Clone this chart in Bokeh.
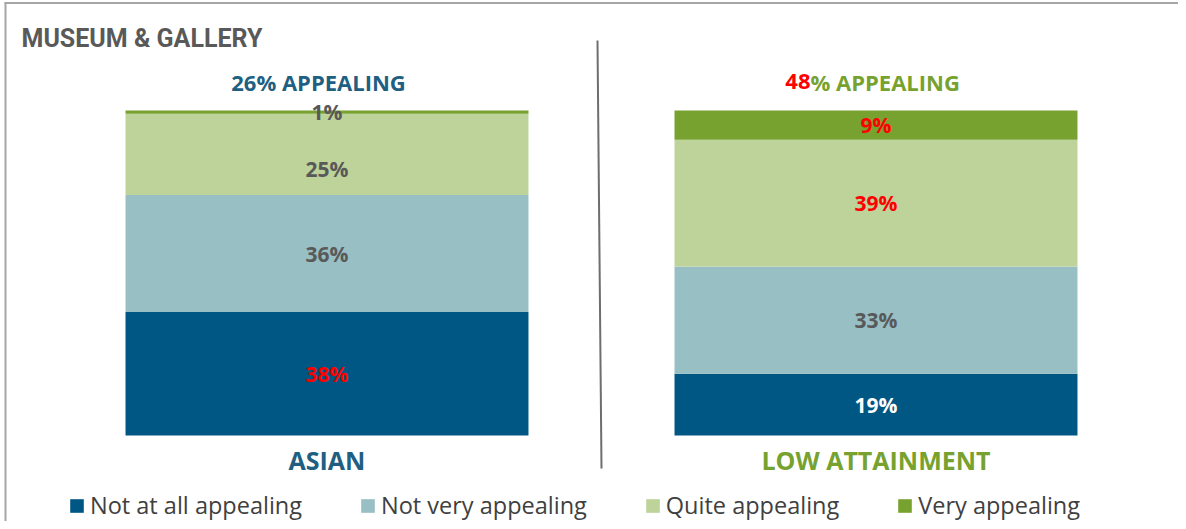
from bokeh.plotting import figure
from bokeh.models import Range1d, Legend, LegendItem, ColumnDataSource
from bokeh.core.properties import value
from bokeh.embed import file_html
from bokeh.resources import INLINE

# ---------------- data ----------------
title_text = "MUSEUM & GALLERY"
categories = ["ASIAN", "LOW ATTAINMENT"]
series_names = ["Not at all appealing", "Not very appealing", "Quite appealing", "Very appealing"]
not_at_all = [38, 19]
not_very = [36, 33]
quite = [25, 39]
very = [1, 9]
appealing_totals = [26, 48]

# ---------------- style ----------------
colors = ["#005783", "#97BFC4", "#BDD399", "#78A22F"]
label_colors = [["#FF0000", "#FFFFFF"],
                ["#595959", "#595959"],
                ["#595959", "#FF0000"],
                ["#595959", "#FF0000"]]
label_offsets = [[0, 0], [0, 0], [-4.6, 0], [0, 0]]   # nudges (in %) for readability
cat_colors = ["#1F5F82", "#77A22F"]
BLUE_TXT = "#1F5F82"
GREEN_TXT = "#77A22F"
RED = "#FF0000"
FONT = "Open Sans"

W, H = 1178, 521
OX, OY = 0, 0              # picture position of the canvas
PX_PER_CAT = 549.0
CAT0_PX = 326.5
PX_PER_PCT = 3.25
ZERO_PX = 435.0

def X(px):
    return (px - CAT0_PX) / PX_PER_CAT

def Y(py):
    return (ZERO_PX - py) / PX_PER_PCT

x_start = X(OX)
x_end = X(OX + W)
y_end = Y(OY)
y_start = Y(OY + H)

p = figure(width=W, height=H, x_range=Range1d(x_start, x_end), y_range=Range1d(y_start, y_end),
           output_backend="svg", toolbar_location=None, x_axis_type=None, y_axis_type=None,
           min_border=0, outline_line_color=None)
p.min_border_left = p.min_border_right = p.min_border_top = p.min_border_bottom = 0
p.grid.visible = False

keys = ["s0", "s1", "s2", "s3"]
values = [not_at_all, not_very, quite, very]
src = ColumnDataSource(dict(x=list(range(len(categories))), **{k: v for k, v in zip(keys, values)}))
rends = p.vbar_stack(keys, x="x", width=0.734, fill_color=colors, line_color=None, source=src)

# segment labels
lx, ly, lt, lc = [], [], [], []
for i in range(len(categories)):
    base = 0
    for s in range(len(keys)):
        v = values[s][i]
        lx.append(i)
        ly.append(base + v / 2 + label_offsets[s][i])
        lt.append(f"{v}%")
        lc.append(label_colors[s][i])
        base += v
p.text(x=lx, y=ly, text=lt, text_color=lc, text_font=value(FONT), text_font_style="bold",
       text_font_size="21px", text_align="center", text_baseline="middle")

# category labels
p.text(x=list(range(len(categories))), y=[Y(459)] * 2, text=categories, text_color=cat_colors,
       text_font=value(FONT), text_font_style="bold", text_font_size="25px",
       text_align="center", text_baseline="middle")

# appealing headers
p.text(x=[X(318)], y=[Y(81)], text=[f"{appealing_totals[0]}% APPEALING"], text_color=BLUE_TXT,
       text_font=value(FONT), text_font_style="bold", text_font_size="22px",
       text_align="center", text_baseline="middle")
p.text(x=[X(810)], y=[Y(81)], text=[f"{appealing_totals[1]}"], text_color=RED,
       text_font=value(FONT), text_font_style="bold", text_font_size="22px",
       text_align="right", text_baseline="middle")
p.text(x=[X(810)], y=[Y(81)], text=["% APPEALING"], text_color=GREEN_TXT,
       text_font=value(FONT), text_font_style="bold", text_font_size="22px",
       text_align="left", text_baseline="middle")

# title
p.text(x=[X(21)], y=[Y(38)], text=[title_text], text_color="#595959",
       text_font=value("Roboto"), text_font_style="bold", text_font_size="25px",
       text_align="left", text_baseline="alphabetic")

# divider and frame
p.segment(x0=[X(597)], y0=[Y(40)], x1=[X(601)], y1=[Y(468)], line_color="#6E6E6E", line_width=2)
p.segment(x0=[X(4)], y0=[Y(2.5)], x1=[X(OX + W)], y1=[Y(2.5)], line_color="#A6A6A6", line_width=2)
p.segment(x0=[X(5)], y0=[Y(2)], x1=[X(5)], y1=[Y(OY + H)], line_color="#A6A6A6", line_width=2)

legend = Legend(items=[LegendItem(label=n, renderers=[r]) for n, r in zip(series_names, rends)],
                orientation="horizontal", location=(68, 0), glyph_width=17, glyph_height=17,
                label_standoff=5, spacing=57, padding=0, margin=0, border_line_color=None,
                background_fill_alpha=0, label_text_font=FONT, label_text_font_size="23.5px",
                label_text_color="#404040", label_height=20)
p.add_layout(legend, "center")

open("out.html", "w").write(file_html(p, INLINE))
